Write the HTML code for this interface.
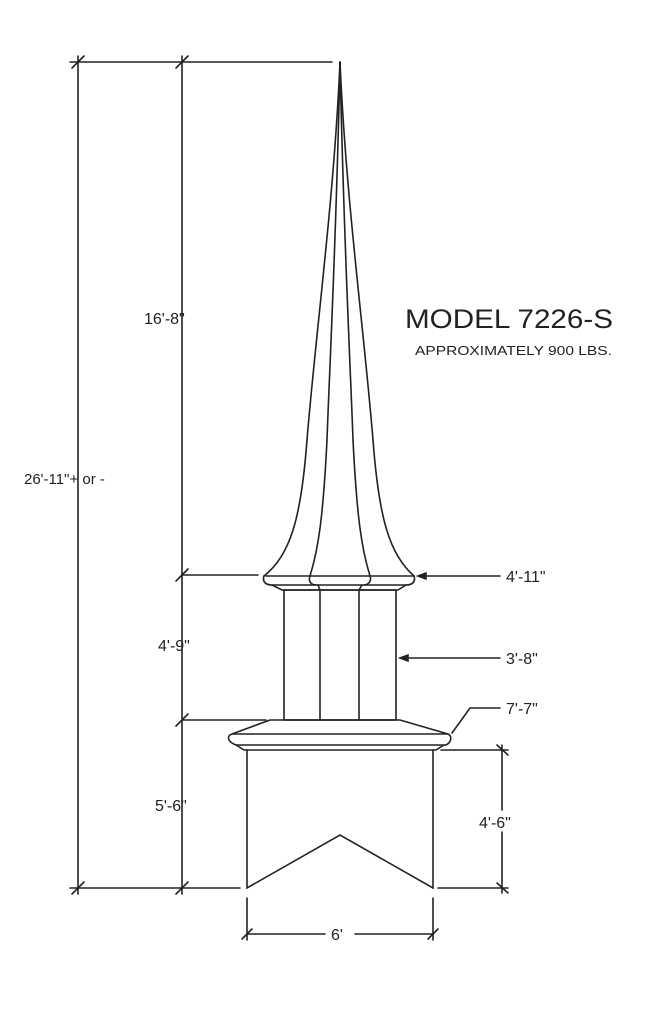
<!DOCTYPE html>
<html><head><style>
html,body{margin:0;padding:0;background:#fff;}
svg{display:block;}
text{font-family:"Liberation Sans",sans-serif;fill:#222;}
</style></head><body>
<svg width="651" height="1024" viewBox="0 0 651 1024" xmlns="http://www.w3.org/2000/svg">
<g stroke="#222" stroke-width="1.6" fill="none" stroke-linecap="round">
<line x1="70" y1="62" x2="332" y2="62"/>
<line x1="78" y1="56" x2="78" y2="894"/>
<line x1="182" y1="56" x2="182" y2="894"/>
<line x1="72" y1="68" x2="84" y2="56"/><line x1="176" y1="68" x2="188" y2="56"/>
<line x1="176" y1="581" x2="188" y2="569"/><line x1="176" y1="726" x2="188" y2="714"/>
<line x1="72" y1="894" x2="84" y2="882"/><line x1="176" y1="894" x2="188" y2="882"/>
<line x1="182" y1="575" x2="258" y2="575"/>
<line x1="182" y1="720" x2="266" y2="720"/>
<line x1="70" y1="888" x2="240" y2="888"/>
<!-- spire -->
<path d="M340 62 C334 200 316 330 307 440 C301 520 290 555 264 576"/>
<path d="M340 62 C346 200 364 330 373 440 C379 520 390 555 414 576"/>
<path d="M340 62 C336 250 329 380 327 440 C323 520 318 550 310 576"/>
<path d="M340 62 C344 250 351 380 353 440 C357 520 362 550 370 576"/>
<!-- flare band -->
<path d="M266 576 L413 576"/>
<path d="M264 576 C262 582 266 585 272 585 L406 585 C412 585 416 582 414 576"/>
<path d="M272 585 L282 590 L398 590 L406 585"/>
<path d="M310 576 C308 581 311 585 316 585 M370 576 C372 581 368 585 364 585"/>
<path d="M318 585 L320 590 M362 585 L359 590"/>
<!-- column -->
<rect x="284" y="590" width="112" height="130"/>
<line x1="320" y1="590" x2="320" y2="720"/>
<line x1="359" y1="590" x2="359" y2="720"/>
<!-- base cap -->
<path d="M270 720 L400 720 L448 734 L232 734 Z"/>
<path d="M232 734 C226 736 228 742 236 745 L446 745 C452 742 452 736 448 734"/>
<path d="M236 745 L244 750 L436 750 L444 745"/>
<!-- box -->
<path d="M247 750 L247 888 L340 835 L433 888 L433 750"/>
<!-- right dims -->
<line x1="418" y1="576" x2="500" y2="576"/>
<path d="M418 576 L426 573 L426 579 Z" fill="#222"/>
<line x1="400" y1="658" x2="500" y2="658"/>
<path d="M400 658 L408 655 L408 661 Z" fill="#222"/>
<path d="M452 733 L470 708 L500 708"/>
<line x1="441" y1="750" x2="508" y2="750"/>
<line x1="438" y1="888" x2="508" y2="888"/>
<line x1="502" y1="745" x2="502" y2="810"/><line x1="502" y1="832" x2="502" y2="893"/>
<line x1="497" y1="745" x2="508" y2="755"/><line x1="497" y1="883" x2="508" y2="893"/>
<line x1="247" y1="898" x2="247" y2="940"/><line x1="433" y1="898" x2="433" y2="940"/>
<line x1="247" y1="934" x2="325" y2="934"/><line x1="355" y1="934" x2="433" y2="934"/>
<line x1="242" y1="939" x2="252" y2="929"/><line x1="428" y1="939" x2="438" y2="929"/>
</g>
<text x="144" y="324" font-size="16">16'-8"</text>
<text x="24" y="484" font-size="15">26'-11"+ or -</text>
<text x="158" y="651" font-size="16">4'-9"</text>
<text x="155" y="811" font-size="16">5'-6"</text>
<text x="506" y="582" font-size="16">4'-11"</text>
<text x="506" y="664" font-size="16">3'-8"</text>
<text x="506" y="714" font-size="16">7'-7"</text>
<text x="479" y="828" font-size="16">4'-6"</text>
<text x="331" y="940" font-size="16">6'</text>
<text x="405" y="328" font-size="27" textLength="208" lengthAdjust="spacingAndGlyphs">MODEL 7226-S</text>
<text x="415" y="355" font-size="13" textLength="197" lengthAdjust="spacingAndGlyphs">APPROXIMATELY 900 LBS.</text>
</svg>
</body></html>
